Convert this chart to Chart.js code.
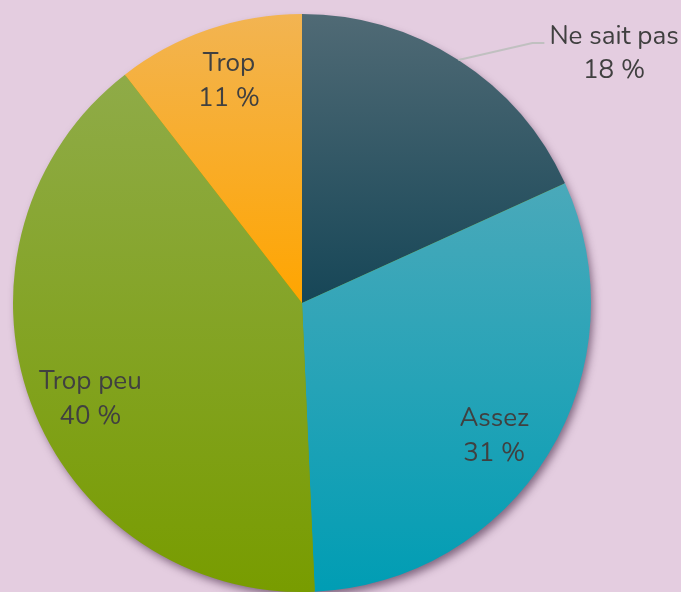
<!DOCTYPE html>
<html>
<head>
<meta charset="utf-8">
<script src="https://cdn.jsdelivr.net/npm/chart.js@4/dist/chart.umd.min.js"></script>
<style>
  html, body { margin: 0; padding: 0; background: #e4cde0; }
  #wrap { width: 681px; height: 592px; }
</style>
</head>
<body>
<div id="wrap"><canvas id="pie"></canvas></div>
<script>
// data
const labels = ["Ne sait pas", "Assez", "Trop peu", "Trop"];
const values = [18.2, 31.1, 40.2, 10.5];
const pctLabels = ["18 %", "31 %", "40 %", "11 %"];
const topColors = ["#506a75", "#4aa9ba", "#8fab48", "#f2b452"];
const bottomColors = ["#164657", "#009db4", "#789c00", "#ffa500"];

const FONT = '26px Nunito, Lato, "Open Sans", sans-serif';
const TEXT = "#404040";

// vertical gradient per slice, lighter at the top
const gradientPlugin = {
    id: "sliceGradient",
    beforeDatasetsDraw(chart) {
        const ctx = chart.ctx;
        const arcs = chart.getDatasetMeta(0).data;
        arcs.forEach((arc, i) => {
            const { x, y, startAngle, endAngle, outerRadius } = arc.getProps(["x", "y", "startAngle", "endAngle", "outerRadius"], true);
            // find vertical extent of the slice
            let ys = [y, y + Math.sin(startAngle) * outerRadius, y + Math.sin(endAngle) * outerRadius];
            for (let k = -4; k <= 4; k++) {
                const a = k * Math.PI / 2;
                if (a > startAngle && a < endAngle) ys.push(y + Math.sin(a) * outerRadius);
            }
            const g = ctx.createLinearGradient(0, Math.min(...ys), 0, Math.max(...ys));
            g.addColorStop(0, topColors[i]);
            g.addColorStop(1, bottomColors[i]);
            arc.options.backgroundColor = g;
        });

        // soft shadow under the whole pie
        const a0 = arcs[0];
        ctx.save();
        ctx.shadowColor = "rgba(60,30,60,0.6)";
        ctx.shadowBlur = 9;
        ctx.shadowOffsetX = 3;
        ctx.shadowOffsetY = 5;
        ctx.fillStyle = "#7f9c00";
        ctx.beginPath();
        ctx.arc(a0.x, a0.y, a0.outerRadius - 1, 0, Math.PI * 2);
        ctx.fill();
        ctx.restore();
    }
};

// labels: inside for big slices, outside with a leader for the first one
const labelPlugin = {
    id: "sliceLabels",
    afterDatasetsDraw(chart) {
        const ctx = chart.ctx;
        const arcs = chart.getDatasetMeta(0).data;
        const yShift = [0, 16, 19, -8];
        ctx.save();
        ctx.font = FONT;
        ctx.fillStyle = TEXT;
        ctx.textBaseline = "middle";
        ctx.textAlign = "center";

        arcs.forEach((arc, i) => {
            const mid = (arc.startAngle + arc.endAngle) / 2;

            if (i === 0) {
                const ex = arc.x + Math.cos(mid) * arc.outerRadius;
                const ey = arc.y + Math.sin(mid) * arc.outerRadius;
                const kx = ex + 74, ky = ey - 17;
                const lx = kx + 12;
                ctx.strokeStyle = "#c0c0c0";
                ctx.lineWidth = 2;
                ctx.beginPath();
                ctx.moveTo(ex, ey);
                ctx.lineTo(kx, ky);
                ctx.lineTo(lx, ky);
                ctx.stroke();
                const w = ctx.measureText(labels[i]).width;
                const cx = lx + 5 + w / 2;
                ctx.fillText(labels[i], cx, ky - 5);
                ctx.fillText(pctLabels[i], cx, ky + 29);
                return;
            }

            const r = arc.outerRadius * 0.78;
            const cx = arc.x + Math.cos(mid) * r;
            const cy = arc.y + Math.sin(mid) * r + yShift[i];
            ctx.fillText(labels[i], cx, cy - 17);
            ctx.fillText(pctLabels[i], cx, cy + 18);
        });
        ctx.restore();
    }
};

new Chart(document.getElementById("pie"), {
    type: "pie",
    data: {
        labels,
        datasets: [{
            data: values,
            backgroundColor: bottomColors,
            borderWidth: 0,
            hoverOffset: 0
        }]
    },
    options: {
        responsive: true,
        maintainAspectRatio: false,
        animation: false,
        layout: { padding: { left: 13, right: 90, top: 14, bottom: 0 } },
        plugins: {
            legend: { display: false },
            tooltip: { enabled: false }
        }
    },
    plugins: [gradientPlugin, labelPlugin]
});
</script>
</body>
</html>
